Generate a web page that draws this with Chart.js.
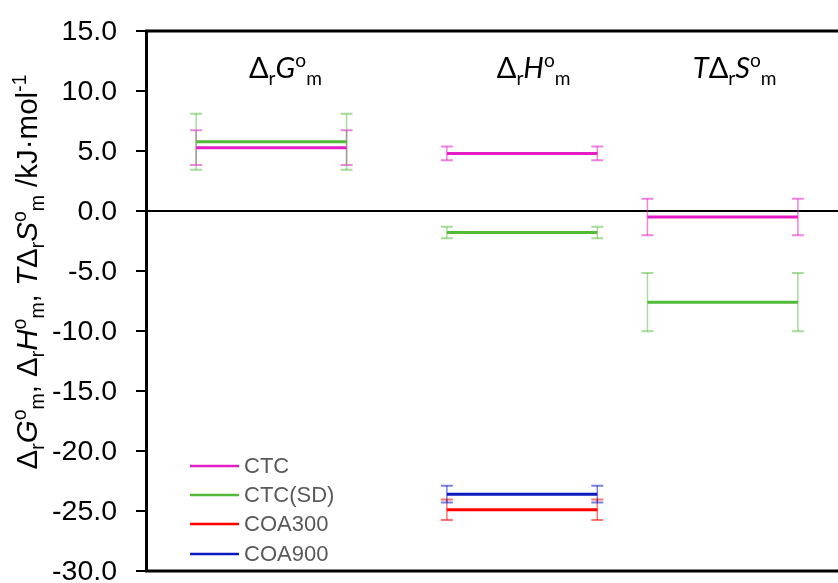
<!DOCTYPE html>
<html>
<head>
<meta charset="utf-8">
<script src="https://cdn.jsdelivr.net/npm/chart.js@4/dist/chart.umd.min.js"></script>
<style>
  body { margin: 0; background: #fff; overflow: hidden; }
  #wrap { width: 838px; height: 583px; }
</style>
</head>
<body>
<div id="wrap"><canvas id="thermoChart" width="838" height="583"></canvas></div>
<script>
// grupos: ΔrG°m, ΔrH°m, TΔrS°m (inicio y fin de cada segmento en el eje x)
const groupStart = [1, 6, 10];
const groupEnd = [4, 9, 13];
const labelPos = [2.78, 7.73, 11.74];

// valores por serie (kJ/mol) y su error
const seriesNames = ["CTC", "CTC(SD)", "COA300", "COA900"];
const ctcValues = [5.28, 4.8, -0.5];
const ctcErrors = [1.45, 0.57, 1.53];
const ctcSdValues = [5.77, -1.8, -7.6];
const ctcSdErrors = [2.33, 0.48, 2.43];
const coa300Values = [null, -24.9, null];
const coa300Errors = [null, 0.85, null];
const coa900Values = [null, -23.6, null];
const coa900Errors = [null, 0.7, null];

// ticks del eje y
const yMin = -30;
const yMax = 15;
const yStep = 5;

const colors = ["#E41EC6", "#52BA38", "#FF0000", "#0A1AC0"];
const errColors = ["rgba(228,30,198,0.55)", "rgba(82,186,56,0.5)", "rgba(255,0,0,0.55)", "rgba(10,26,192,0.55)"];
const allValues = [ctcValues, ctcSdValues, coa300Values, coa900Values];
const allErrors = [ctcErrors, ctcSdErrors, coa300Errors, coa900Errors];

function segments(values) {
  const pts = [];
  values.forEach((v, i) => {
    if (v === null) return;
    pts.push({ x: groupStart[i], y: v });
    pts.push({ x: groupEnd[i], y: v });
    pts.push({ x: groupEnd[i] + 0.5, y: null });
  });
  return pts;
}

const datasets = seriesNames.map((name, s) => ({
  label: name,
  data: segments(allValues[s]),
  borderColor: colors[s],
  backgroundColor: colors[s],
  borderWidth: 3,
  pointRadius: 0,
  spanGaps: false,
  errors: allErrors[s],
  values: allValues[s],
}));

// texto con subíndices / superíndices
function drawRich(ctx, parts, x, y, size, family, align) {
  const fontFor = (p) => {
    const sz = p.sub || p.sup ? size * 0.66 : size;
    return (p.it ? "italic " : "") + sz + "px " + family;
  };
  let total = 0;
  parts.forEach((p) => {
    ctx.font = fontFor(p);
    p.w = ctx.measureText(p.t).width;
    total += p.w;
  });
  let cx = align === "center" ? x - total / 2 : x;
  ctx.textAlign = "left";
  ctx.textBaseline = "alphabetic";
  parts.forEach((p) => {
    ctx.font = fontFor(p);
    let dy = 0;
    if (p.sub) dy = size * 0.25;
    if (p.sup) dy = -size * 0.38;
    ctx.fillText(p.t, cx, y + dy);
    cx += p.w;
  });
}

const groupLabels = [
  [{ t: "Δ" }, { t: "r", sub: 1 }, { t: "G", it: 1 }, { t: "o", sup: 1 }, { t: "m", sub: 1 }],
  [{ t: "Δ" }, { t: "r", sub: 1 }, { t: "H", it: 1 }, { t: "o", sup: 1 }, { t: "m", sub: 1 }],
  [{ t: "T", it: 1 }, { t: "Δ" }, { t: "r", sub: 1 }, { t: "S", it: 1 }, { t: "o", sup: 1 }, { t: "m", sub: 1 }],
];
const yTitle = [
  { t: "Δ" }, { t: "r", sub: 1 }, { t: "G", it: 1 }, { t: "o", sup: 1 }, { t: "m", sub: 1 }, { t: ", " },
  { t: "Δ" }, { t: "r", sub: 1 }, { t: "H", it: 1 }, { t: "o", sup: 1 }, { t: "m", sub: 1 }, { t: ", " },
  { t: "T", it: 1 }, { t: "Δ" }, { t: "r", sub: 1 }, { t: "S", it: 1 }, { t: "o", sup: 1 }, { t: "m", sub: 1 },
  { t: " /kJ·mol" }, { t: "-1", sup: 1 },
];

const extras = {
  id: "extras",
  beforeDatasetsDraw(chart) {
    const { ctx, chartArea: a, scales } = chart;
    const xs = scales.x, ys = scales.y;
    ctx.save();
    // línea del cero
    ctx.strokeStyle = "#000";
    ctx.lineWidth = 2;
    ctx.beginPath();
    ctx.moveTo(a.left, ys.getPixelForValue(0));
    ctx.lineTo(a.right, ys.getPixelForValue(0));
    ctx.stroke();
    // barras de error en los extremos de cada segmento
    chart.data.datasets.forEach((ds, s) => {
      ctx.strokeStyle = errColors[s];
      ds.values.forEach((v, i) => {
        if (v === null) return;
        const e = ds.errors[i];
        [groupStart[i], groupEnd[i]].forEach((gx) => {
          const px = xs.getPixelForValue(gx);
          const top = ys.getPixelForValue(v + e);
          const bot = ys.getPixelForValue(v - e);
          ctx.lineWidth = 1.5;
          ctx.beginPath();
          ctx.moveTo(px, top);
          ctx.lineTo(px, bot);
          ctx.stroke();
          ctx.lineWidth = 2;
          ctx.beginPath();
          ctx.moveTo(px - 6, top);
          ctx.lineTo(px + 6, top);
          ctx.moveTo(px - 6, bot);
          ctx.lineTo(px + 6, bot);
          ctx.stroke();
        });
      });
    });
    ctx.restore();
  },
  afterDraw(chart) {
    const { ctx, chartArea: a, scales } = chart;
    ctx.save();
    // bordes superior e inferior
    ctx.fillStyle = "#000";
    ctx.fillRect(a.left - 1, a.top - 1.5, a.right - a.left + 1, 3);
    ctx.fillRect(a.left - 1, a.bottom - 1.5, a.right - a.left + 1, 3);

    // etiquetas del eje y
    ctx.font = "28.5px 'Liberation Sans'";
    ctx.textAlign = "right";
    ctx.textBaseline = "middle";
    scales.y.ticks.forEach((t) => {
      ctx.fillText(t.value.toFixed(1), 117, scales.y.getPixelForValue(t.value) + 1);
    });

    // etiquetas de cada grupo
    groupLabels.forEach((parts, i) => {
      drawRich(ctx, parts, scales.x.getPixelForValue(labelPos[i]), 78, 29, "Lato", "center");
    });

    // título del eje y (rotado)
    ctx.save();
    ctx.translate(37, 272);
    ctx.rotate(-Math.PI / 2);
    drawRich(ctx, yTitle, 0, 0, 29.5, "'Liberation Sans'", "center");
    ctx.restore();

    // leyenda
    const rows = [466, 495, 524, 554];
    ctx.font = "22px 'Liberation Sans'";
    ctx.textBaseline = "middle";
    ctx.textAlign = "left";
    seriesNames.forEach((name, s) => {
      ctx.strokeStyle = colors[s];
      ctx.lineWidth = 2.5;
      ctx.beginPath();
      ctx.moveTo(190, rows[s]);
      ctx.lineTo(239, rows[s]);
      ctx.stroke();
      ctx.fillStyle = "#595959";
      ctx.fillText(name, 244, rows[s] + 1);
    });
    ctx.restore();
  },
};

const ctx = document.getElementById("thermoChart").getContext("2d");
new Chart(ctx, {
  type: "line",
  data: { datasets },
  options: {
    responsive: false,
    animation: false,
    layout: { padding: { top: 31, bottom: 12, left: 0, right: 0 }, autoPadding: false },
    scales: {
      x: { type: "linear", min: 0, max: 13.8, display: false },
      y: {
        min: yMin,
        max: yMax,
        afterFit(scale) {
          scale.width = 146;
        },
        ticks: { stepSize: yStep, autoSkip: false, display: false },
        grid: { drawOnChartArea: false, drawTicks: true, tickLength: 10, color: "#000", lineWidth: 2 },
        border: { display: true, color: "#000", width: 3 },
      },
    },
    plugins: {
      legend: { display: false },
      tooltip: { enabled: false },
    },
  },
  plugins: [extras],
});
</script>
</body>
</html>
